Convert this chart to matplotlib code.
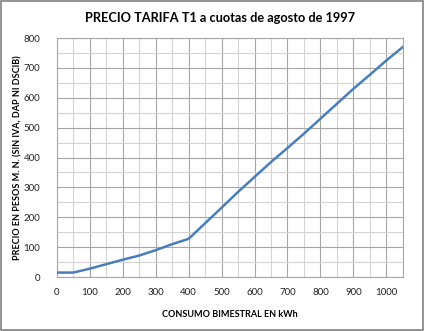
import matplotlib
matplotlib.use("Agg")
import matplotlib.pyplot as plt
from matplotlib.patches import Rectangle

consumo = [0, 50, 100, 150, 200, 250, 300, 350, 400, 450, 500, 550, 600, 650, 700, 750, 800, 850, 900, 950, 1000, 1050]
precio = [15, 15, 28, 43, 58, 72, 90, 110, 128, 180, 232, 285, 335, 385, 432, 480, 530, 580, 630, 677, 725, 770]
xticks = [0, 100, 200, 300, 400, 500, 600, 700, 800, 900, 1000]
yticks = [0, 100, 200, 300, 400, 500, 600, 700, 800]

plt.rcParams['font.family'] = ['Lato', 'DejaVu Sans']

fig = plt.figure(figsize=(4.24, 3.31), dpi=100)
ax = fig.add_axes([0.134, 0.163, 0.816, 0.722])
ax.plot(consumo, precio, color='#4a7ebb', lw=1.8, zorder=3)
ax.set_xlim(0, 1050)
ax.set_ylim(0, 800)
ax.set_xticks(xticks)
ax.set_yticks(yticks)
ax.set_xticks(range(50, 1050, 100), minor=True)
ax.set_yticks(range(50, 800, 100), minor=True)
ax.grid(which='major', color='#a6a6a6', lw=0.8)
ax.grid(which='minor', color='#d4d4d4', lw=0.8)
ax.tick_params(which='both', length=0)
ax.tick_params(labelsize=7, colors='#222222', pad=8)
ax.tick_params(axis='y', pad=12)
for s in ax.spines.values():
    s.set_color('#a6a6a6')
    s.set_linewidth(0.8)
ax.set_xlabel('CONSUMO BIMESTRAL EN kWh', fontsize=6.5, fontweight='bold', labelpad=9)
ax.set_ylabel('PRECIO EN PESOS M. N. (SIN IVA, DAP NI DSCIB)', fontsize=6.5, fontweight='bold', labelpad=1)
fig.text(0.52, 0.945, 'PRECIO TARIFA T1 a cuotas de agosto de 1997', ha='center', va='center',
         fontsize=9.2, fontweight='bold')
fig.patches.append(Rectangle((0.002, 0.003), 0.995, 0.994, transform=fig.transFigure,
                             fill=False, edgecolor='#808080', lw=1.2))
fig.savefig('out.png', dpi=100)
